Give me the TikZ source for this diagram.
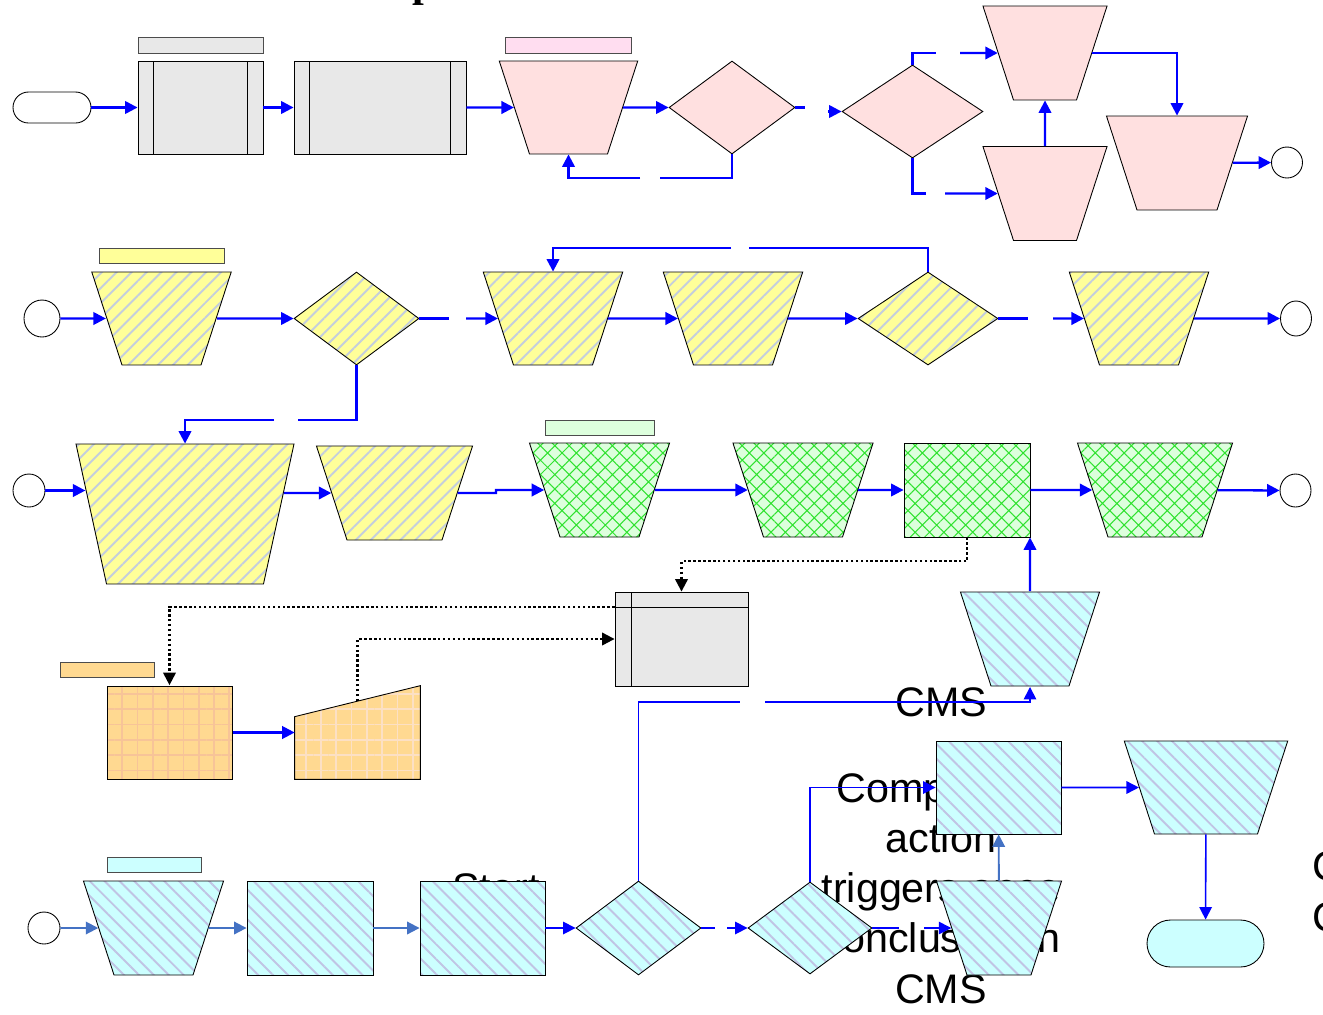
\documentclass[tikz,border=0pt]{standalone}
\usepackage{fontspec}
\setmainfont{Liberation Sans}
\newfontfamily\titlefont{Liberation Serif}
\usetikzlibrary{shapes.geometric,arrows.meta,patterns.meta}

\definecolor{flowblue}{RGB}{0,0,255}
\definecolor{steelblue}{RGB}{68,114,196}
\definecolor{boxgray}{RGB}{232,232,232}
\definecolor{pinkfill}{RGB}{255,224,224}
\definecolor{pinktag}{RGB}{255,221,240}
\definecolor{yellowfill}{RGB}{255,255,153}
\definecolor{yellowstripe}{RGB}{196,206,220}
\definecolor{greenfill}{RGB}{221,255,221}
\definecolor{greenhatch}{RGB}{48,226,48}
\definecolor{cyanfill}{RGB}{204,255,255}
\definecolor{cyanstripe}{RGB}{192,196,228}
\definecolor{orangefill}{RGB}{255,217,145}
\definecolor{orangegrid}{RGB}{247,196,152}
\definecolor{orangegridlight}{RGB}{252,224,196}

\begin{document}
\begin{tikzpicture}[x=0.02cm, y=-0.02cm,
    >={Triangle[length=0.25cm,width=0.25cm]},
    box/.style={draw, line width=0.5pt, inner sep=0pt},
    tag/.style={box, draw=black!70, minimum width=#1, minimum height=0.31cm},
    trap/.style 2 args={box, trapezium, shape border rotate=180, trapezium angle=72,
        text width=#1, text height=#2, text depth=0pt},
    dia/.style={box, diamond, minimum height=1.86cm},
    dot/.style 2 args={box, ellipse, fill=white, minimum width=#1, minimum height=#2},
    predef/.style={box, fill=boxgray, minimum height=1.86cm, path picture={
        \draw[line width=0.5pt] ([xshift=0.31cm]path picture bounding box.north west) -- ([xshift=0.31cm]path picture bounding box.south west)
            ([xshift=-0.31cm]path picture bounding box.north east) -- ([xshift=-0.31cm]path picture bounding box.south east);}},
    store/.style={box, fill=boxgray, path picture={
        \draw[line width=0.5pt] ([xshift=0.32cm]path picture bounding box.north west) -- ([xshift=0.32cm]path picture bounding box.south west)
            ([yshift=-0.3cm]path picture bounding box.north west) -- ([yshift=-0.3cm]path picture bounding box.north east);}},
    yhatch/.style={preaction={fill=yellowfill}, pattern={Lines[angle=45,distance=6pt,line width=1.1pt]}, pattern color=yellowstripe},
    chatch/.style={preaction={fill=cyanfill}, pattern={Lines[angle=-45,distance=6pt,line width=1.1pt]}, pattern color=cyanstripe},
    ghatch/.style={preaction={fill=greenfill}, pattern={Hatch[angle=45,distance=5.8pt,line width=0.6pt]}, pattern color=greenhatch},
    ogrid/.style={preaction={fill=orangefill}, pattern={Hatch[angle=0,distance=8.7pt,line width=1pt]}, pattern color=#1},
    flow/.style={draw=flowblue, line width=1.3pt},
    thinflow/.style={draw=flowblue, line width=0.9pt},
    steel/.style={draw=steelblue, line width=1.1pt},
    dotflow/.style={draw=black, line width=1.2pt, dash pattern=on 1.4pt off 1.4pt},
    txt/.style={inner sep=0pt, font=\fontsize{23.5}{28.6}\selectfont}]

    \useasboundingbox (0,0) rectangle (1323,1015);

    % texts behind the shapes
    \node[anchor=base west, inner sep=0pt, font=\titlefont\bfseries\fontsize{24}{28}\selectfont] (title) at (412,-4) {p};
    \node[txt, anchor=base] (cms) at (941.5,716) {CMS};
    \node[txt, anchor=base, align=center] (note) at (941,1003) {Completion\\action\\triggers once\\conclusion in\\CMS};
    \node[txt, anchor=base] (start) at (496,902) {Start};
    \node[txt, anchor=base west, align=left] (edge) at (1312,931) {C\\C};

    % row 1
    \node[box, fill=white, rounded corners=0.31cm, minimum width=1.56cm, minimum height=0.62cm] (T1) at (52,107.5) {};
    \node[tag=2.5cm, fill=boxgray] (R1tag) at (200.5,45.5) {};
    \node[predef, minimum width=2.5cm] (R1) at (200.5,107.5) {};
    \node[predef, minimum width=3.44cm] (R2) at (380,107.5) {};
    \node[tag=2.52cm, fill=pinktag] (P1tag) at (568,45.5) {};
    \node[trap={1.56cm}{1.86cm}, fill=pinkfill] (P1) at (568.5,107.5) {};
    \node[dia, fill=pinkfill, minimum width=2.52cm] (PD1) at (732,107.5) {};
    \node[dia, fill=pinkfill, minimum width=2.82cm] (PD2) at (912.5,111.5) {};
    \node[trap={1.26cm}{1.88cm}, fill=pinkfill] (PA) at (1045,53) {};
    \node[trap={1.26cm}{1.88cm}, fill=pinkfill] (PB) at (1045,193.5) {};
    \node[trap={1.6cm}{1.88cm}, fill=pinkfill] (PC) at (1177,163) {};
    \node[dot={0.62cm}{0.62cm}] (PE) at (1287,162.5) {};

    % row 2
    \node[dot={0.72cm}{0.74cm}] (YS) at (42,318.5) {};
    \node[tag=2.5cm, fill=yellowfill] (Y1tag) at (161.5,256) {};
    \node[trap={1.58cm}{1.86cm}, yhatch] (Y1) at (161.5,318.5) {};
    \node[dia, yhatch, minimum width=2.5cm] (YD2) at (356.5,318.5) {};
    \node[trap={1.58cm}{1.86cm}, yhatch] (Y3) at (553,318.5) {};
    \node[trap={1.58cm}{1.86cm}, yhatch] (Y4) at (733,318.5) {};
    \node[dia, yhatch, minimum width=2.8cm] (YD5) at (928,318.5) {};
    \node[trap={1.58cm}{1.86cm}, yhatch] (Y6) at (1139,318.5) {};
    \node[dot={0.62cm}{0.7cm}] (YE) at (1296,318.5) {};

    % row 3
    \node[dot={0.64cm}{0.66cm}] (GS) at (29,490.5) {};
    \node[trap={3.14cm}{2.8cm}, trapezium angle=77.7, yhatch] (Y7) at (185,514) {};
    \node[trap={1.9cm}{1.88cm}, yhatch] (Y8) at (394.5,493) {};
    \node[tag=2.18cm, fill=greenfill] (G1tag) at (599.5,428) {};
    \node[trap={1.58cm}{1.88cm}, ghatch] (G1) at (599.5,490) {};
    \node[trap={1.58cm}{1.88cm}, ghatch] (G2) at (803,490) {};
    \node[box, ghatch, minimum width=2.52cm, minimum height=1.88cm] (G3) at (967,490) {};
    \node[trap={1.88cm}{1.88cm}, ghatch] (G4) at (1155,490) {};
    \node[dot={0.62cm}{0.66cm}] (GE) at (1295.5,490.5) {};

    % storage, orange steps and the cyan feed
    \node[store, minimum width=2.66cm, minimum height=1.88cm] (H) at (681.5,639) {};
    \node[trap={1.56cm}{1.88cm}, chatch] (B1) at (1030,639) {};
    \node[tag=1.88cm, fill=orangefill] (O1tag) at (107,670) {};
    \node[box, ogrid=orangegrid, minimum width=2.5cm, minimum height=1.86cm] (O1) at (169.5,732.5) {};
    \node[inner sep=0pt, minimum width=2.5cm, minimum height=1.86cm] (O2) at (357.5,732.5) {};
    \draw[box, ogrid=orangegridlight] (O2.south west) -- (O2.south east) -- (O2.north east) -- ([yshift=-0.62cm]O2.north west) -- cycle;

    % row 4
    \node[dot={0.64cm}{0.64cm}] (CS) at (44,928) {};
    \node[tag=1.88cm, fill=cyanfill] (C1tag) at (154,865) {};
    \node[trap={1.58cm}{1.88cm}, chatch] (C1) at (153.5,928) {};
    \node[box, chatch, minimum width=2.52cm, minimum height=1.88cm] (C2) at (310,928) {};
    \node[box, chatch, minimum width=2.5cm, minimum height=1.88cm] (C3) at (482.5,928) {};
    \node[dia, chatch, minimum width=2.5cm, minimum height=1.88cm] (CD1) at (638.5,928) {};
    \node[dia, chatch, minimum width=2.48cm, minimum height=1.84cm] (CD2) at (810,928) {};
    \node[box, chatch, minimum width=2.5cm, minimum height=1.86cm] (C4) at (998.5,787.5) {};
    \node[trap={1.28cm}{1.88cm}, chatch] (C5) at (999,928) {};
    \node[trap={2.06cm}{1.86cm}, chatch] (C6) at (1206,787.5) {};
    \node[box, fill=cyanfill, rounded corners=0.47cm, minimum width=2.34cm, minimum height=0.94cm] (T2) at (1205.5,943.5) {};

    % breaks in the lines
    \coordinate (gA1) at (660,178);    \coordinate (gA2) at (640,178);
    \coordinate (gB1) at (805,107.5);  \coordinate (gB2) at (828,111.5);
    \coordinate (gC1) at (936,53);     \coordinate (gC2) at (960,53);
    \coordinate (gD1) at (926,193.5);  \coordinate (gD2) at (945,193.5);
    \coordinate (gE1) at (449,318.5);  \coordinate (gE2) at (466,318.5);
    \coordinate (gF1) at (749,248);    \coordinate (gF2) at (731,248);
    \coordinate (gG1) at (1028,318.5); \coordinate (gG2) at (1053,318.5);
    \coordinate (gH1) at (298,420);    \coordinate (gH2) at (274,420);
    \coordinate (gI1) at (740,702);    \coordinate (gI2) at (765,702);
    \coordinate (gJ1) at (715,928);    \coordinate (gJ2) at (727,928);
    \coordinate (gK1) at (899,928);    \coordinate (gK2) at (924,928);
    \coordinate (kink) at (496,493);

    % straight arrows
    \foreach \a/\b in {T1/R1, R1/R2, R2/P1, P1/PD1, PB/PA, PC/PE, YS/Y1, Y1/YD2, Y3/Y4,
        Y4/YD5, Y6/YE, G1/G2, G2/G3, G3/G4, G4/GE, O1/O2}
        \draw[flow, ->] (\a) -- (\b);

    % row 1 branches
    \draw[flow] (PD1.south) |- (gA1);
    \draw[flow, ->] (gA2) -| (P1);
    \draw[flow] (PD1.east) -- (gB1);
    \draw[flow, ->] (gB2) -- (PD2);
    \draw[flow] (PD2.north) |- (gC1);
    \draw[flow, ->] (gC2) -- (PA);
    \draw[flow] (PD2.south) |- (gD1);
    \draw[flow, ->] (gD2) -- (PB);
    \draw[flow, ->] (PA) -| (PC);

    % row 2 branches
    \draw[flow] (YD2.east) -- (gE1);
    \draw[flow, ->] (gE2) -- (Y3);
    \draw[flow] (YD5.north) |- (gF1);
    \draw[flow, ->] (gF2) -| (Y3);
    \draw[flow] (YD5.east) -- (gG1);
    \draw[flow, ->] (gG2) -- (Y6);
    \draw[flow] (YD2.south) |- (gH1);
    \draw[flow, ->] (gH2) -| (Y7);

    % row 3
    \draw[flow, ->] (GS) -- (GS -| Y7.166);
    \draw[flow, ->] (Y7.12) -- (Y8);
    \draw[flow, ->] (Y8) -- (kink) |- (G1);
    \draw[flow, ->] (B1) -- (B1 |- G3.south);

    % dotted links
    \draw[dotflow, ->] (G3.south) -- ++(0,24) -| (H);
    \draw[dotflow, ->] ([yshift=-0.3cm]H.north west) -| (O1);
    \draw[dotflow, ->] ([yshift=-0.31cm]O2.north) |- (H);

    % row 4
    \foreach \a/\b in {CS/C1, C1/C2, C2/C3, C5/C4}
        \draw[steel, ->] (\a) -- (\b);
    \foreach \a/\b in {C3/CD1, C4/C6, C6/T2}
        \draw[thinflow, ->] (\a) -- (\b);
    \draw[thinflow] (CD1.north) |- (gI1);
    \draw[thinflow, ->] (gI2) -| (B1);
    \draw[thinflow] (CD1.east) -- (gJ1);
    \draw[thinflow, ->] (gJ2) -- (CD2);
    \draw[thinflow, ->] (CD2.north) |- (C4);
    \draw[thinflow] (CD2.east) -- (gK1);
    \draw[thinflow, ->] (gK2) -- (C5);

\end{tikzpicture}
\end{document}
